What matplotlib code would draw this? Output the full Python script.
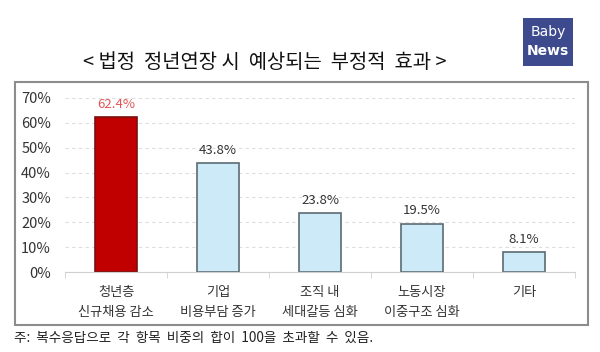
import matplotlib.pyplot as plt
from matplotlib.patches import Rectangle

plt.rcParams['font.family'] = ['Noto Sans CJK KR', 'DejaVu Sans']

categories = ['청년층\n신규채용 감소', '기업\n비용부담 증가', '조직 내\n세대갈등 심화',
              '노동시장\n이중구조 심화', '기타']
values = [62.4, 43.8, 23.8, 19.5, 8.1]
labels = ['62.4%', '43.8%', '23.8%', '19.5%', '8.1%']
yticks = [0, 10, 20, 30, 40, 50, 60, 70]

fig = plt.figure(figsize=(6, 3.52), dpi=100)
fig.patch.set_facecolor('white')

# outer frame
fig.patches.append(Rectangle((15 / 600, 1 - 325 / 352), 573 / 600, 243 / 352,
                             transform=fig.transFigure, fill=False,
                             edgecolor='#8c8c8c', linewidth=1.5))

# logo
fig.patches.append(Rectangle((523 / 600, 1 - 66 / 352), 50 / 600, 48 / 352,
                             transform=fig.transFigure, facecolor='#3d4b8e',
                             edgecolor='none'))
fig.text(548 / 600, 1 - 32 / 352, 'Baby', color='white', fontsize=10,
         ha='center', va='center', family='DejaVu Sans')
fig.text(548 / 600, 1 - 51 / 352, 'News', color='white', fontsize=10,
         fontweight='bold', ha='center', va='center', family='DejaVu Sans')

fig.text(265 / 600, 1 - 63 / 352, '< 법정  정년연장 시  예상되는  부정적  효과 >',
         fontsize=14.3, ha='center', va='center', color='#111111')

fig.text(14 / 600, 1 - 338 / 352, '주:  복수응답으로  각  항목  비중의  합이  100을  초과할  수  있음.',
         fontsize=9.75, ha='left', va='center', color='#222222')

ax = fig.add_axes([65 / 600, 1 - 272 / 352, 510 / 600, 174 / 352])
x = range(len(categories))
colors = ['#c00000'] + ['#cdeaf8'] * 4
edges = ['#7a1010'] + ['#5c6b74'] * 4
ax.bar(x, values, width=0.41, color=colors, edgecolor=edges, linewidth=1.2, zorder=3)

for i, (v, t) in enumerate(zip(values, labels)):
    ax.text(i, v + 2.5, t, ha='center', va='bottom', fontsize=9.5,
            color='#e05555' if i == 0 else '#333333', fontweight='medium')

ax.set_xlim(-0.5, 4.5)
ax.set_ylim(0, 70)
ax.set_yticks(yticks)
ax.set_yticklabels([f'{t}%' for t in yticks], fontsize=10.5, color='#333333',
                   fontweight='medium')
ax.set_xticks(list(x))
ax.set_xticklabels(categories, fontsize=9.5, color='#333333', linespacing=1.75,
                   fontweight='medium')
ax.tick_params(axis='x', length=0, pad=10)
ax.tick_params(axis='y', length=0, pad=10)
ax.set_xticks([i + 0.5 for i in range(-1, 5)], minor=True)
ax.tick_params(axis='x', which='minor', length=4, color='#d0d0d0')

ax.yaxis.grid(True, linestyle=(0, (3, 3)), color='#dddddd', linewidth=0.8, zorder=0)
for s in ['top', 'right', 'left']:
    ax.spines[s].set_visible(False)
ax.spines['bottom'].set_color('#d0d0d0')
ax.spines['bottom'].set_zorder(4)

fig.savefig('out.png', dpi=100)
